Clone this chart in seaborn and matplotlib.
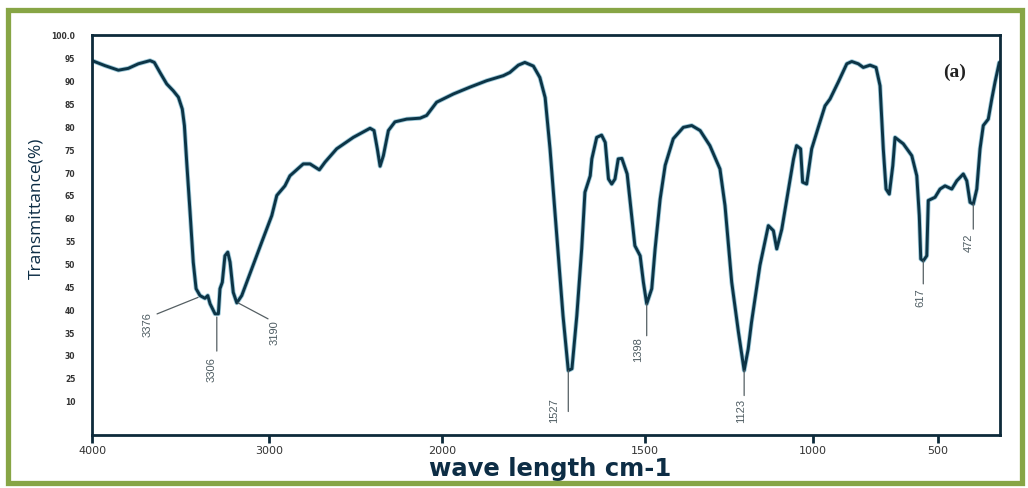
import numpy as np
import matplotlib
matplotlib.use("Agg")
import matplotlib.pyplot as plt
import matplotlib.patheffects as pe
from matplotlib.patches import Rectangle
import pandas as pd
import seaborn as sns

# ---------------- data ----------------
wavenumber = [4000, 3927, 3851, 3795, 3738, 3672, 3648, 3616, 3578, 3541,
              3512, 3490, 3478, 3465, 3446, 3428, 3412, 3390, 3362, 3346,
              3333, 3305, 3286, 3277, 3264, 3249, 3233, 3220, 3202, 3182,
              3154, 3098, 3041, 2984, 2955, 2908, 2879, 2802, 2763, 2709,
              2676, 2609, 2513, 2416, 2393, 2374, 2358, 2339, 2310, 2272,
              2204, 2127, 2089, 2031, 1972, 1931, 1890, 1849, 1833, 1812,
              1796, 1775, 1759, 1746, 1734, 1718, 1702, 1689, 1680, 1668,
              1656, 1648, 1635, 1631, 1619, 1607, 1598, 1590, 1582, 1574,
              1566, 1557, 1544, 1533, 1525, 1512, 1504, 1495, 1480, 1470,
              1455, 1440, 1416, 1386, 1361, 1336, 1307, 1277, 1262, 1242,
              1222, 1205, 1193, 1183, 1158, 1133, 1118, 1108, 1093, 1078,
              1058, 1049, 1037, 1031, 1019, 1004, 979, 952, 932, 899,
              865, 845, 819, 799, 772, 748, 732, 719, 708, 695,
              681, 672, 639, 605, 585, 575, 569, 559, 545, 539,
              512, 492, 472, 445, 425, 399, 385, 372, 359, 345,
              332, 319, 299, 285, 272, 255]

transmittance = [94.4, 93.3, 92.3, 92.7, 93.7, 94.4, 94.0, 91.8, 89.3, 87.8,
                 86.4, 83.8, 80.2, 72.2, 61.2, 50.3, 44.5, 43.0, 42.4, 43.0,
                 41.2, 39.0, 39.0, 44.5, 45.9, 51.7, 52.5, 50.3, 43.7, 41.4,
                 43.0, 48.8, 54.7, 60.5, 64.9, 67.0, 69.2, 71.8, 71.8, 70.5,
                 72.2, 75.1, 77.6, 79.6, 79.1, 75.1, 71.3, 73.6, 79.1, 81.0,
                 81.6, 81.8, 82.4, 85.3, 87.1, 88.6, 90.0, 91.1, 91.8, 93.4,
                 94.0, 93.2, 90.7, 86.3, 75.1, 56.9, 38.6, 26.6, 27.0, 38.6,
                 53.2, 65.6, 69.2, 72.9, 77.6, 78.1, 76.5, 68.5, 67.4, 68.5,
                 72.9, 73.0, 69.6, 60.5, 53.9, 51.7, 45.9, 41.2, 44.5, 53.2,
                 64.1, 71.5, 77.3, 79.8, 80.2, 79.1, 75.8, 70.7, 62.7, 45.9,
                 35.0, 26.6, 31.3, 37.2, 49.6, 58.3, 57.2, 53.2, 57.5, 64.1,
                 72.9, 75.8, 75.1, 67.8, 67.4, 75.1, 79.8, 84.5, 86.0, 89.7,
                 93.7, 94.2, 93.7, 92.9, 93.4, 92.9, 88.9, 75.1, 66.3, 65.2,
                 71.4, 77.6, 76.2, 73.6, 69.2, 60.5, 51.0, 50.6, 51.7, 63.8,
                 64.5, 66.3, 67.0, 66.3, 68.1, 69.6, 68.1, 63.4, 63.0, 66.3,
                 75.1, 80.2, 81.6, 86.0, 89.7, 94.0]

x_tick_values = [4000, 3000, 2000, 1500, 1000, 500]
x_tick_labels = ["4000", "3000", "2000", "1500", "1000", "500"]
y_tick_values = [100, 95, 90, 85, 80, 75, 70, 65, 60, 55, 50, 45, 40, 35, 30, 25, 20]
y_tick_labels = ["100.0", "95", "90", "85", "80", "75", "70", "65", "60",
                 "55", "50", "45", "40", "35", "30", "25", "10"]

peak_labels = ["3376", "3306", "3190", "1527", "1398", "1123", "617", "472"]
peak_wavenumber = [3401, 3295, 3175, 1689, 1495, 1205, 559, 359]
peak_transmittance = [42.6, 38.3, 41.4, 26.6, 41.2, 26.6, 50.6, 63.0]

# uneven wavenumber axis of the reference (wavenumber -> axis units)
axis_knots_w = [252, 500, 1000, 1500, 2000, 3000, 4000]
axis_knots_u = [0, 62, 187, 355, 558, 731, 908]

# ---------------- layout / style ----------------
# offsets (points) of leader-line end and label centre relative to each peak
line_offsets = [(-29.5, -11.9), (0, -24.5), (21.6, -11.5), (0, -29.5),
                (0, -23.0), (0, -18.0), (0, -16.6), (0, -18.0)]
text_offsets = [(-36.4, -19.1), (-4.1, -37.4), (26.6, -20.9), (-10.1, -28.1),
                (-6.5, -32.4), (-2.2, -28.1), (-2.2, -26.0), (-3.6, -27.4)]

KW = np.array(axis_knots_w, float)
KU = np.array(axis_knots_u, float)


def _pw(vals, xs, ys):
    a = np.asarray(vals, float)
    flat = a.ravel()
    out = np.interp(flat, xs, ys)
    s0 = (ys[1] - ys[0]) / (xs[1] - xs[0])
    s1 = (ys[-1] - ys[-2]) / (xs[-1] - xs[-2])
    lo = flat < xs[0]
    hi = flat > xs[-1]
    out[lo] = ys[0] + (flat[lo] - xs[0]) * s0
    out[hi] = ys[-1] + (flat[hi] - xs[-1]) * s1
    return out.reshape(a.shape)


def fwd(w):
    return _pw(w, KW, KU)


def inv(u):
    return _pw(u, KU, KW)


sns.set_style("white")
plt.rcParams["font.family"] = ["DejaVu Sans"]

fig = plt.figure(figsize=(10.28, 4.89), dpi=100)
ax = fig.add_axes([0.0895, 0.1084, 0.8833, 0.818])

df = pd.DataFrame({"wavenumber": wavenumber, "transmittance": transmittance})
sns.lineplot(data=df, x="wavenumber", y="transmittance", sort=False,
             estimator=None, color="#0c3446", lw=2.1, ax=ax)
ax.lines[0].set_path_effects([pe.Stroke(linewidth=3.3, foreground="#3a93b3", alpha=0.5),
                              pe.Normal()])

ax.set_xscale("function", functions=(fwd, inv))
ax.set_xlim(4000, 252)
ax.set_ylim(12.5, 100)

ax.set_xticks(x_tick_values)
ax.set_xticklabels(x_tick_labels)
ax.minorticks_off()
ax.set_yticks(y_tick_values)
ax.set_yticklabels(y_tick_labels)

for s in ax.spines.values():
    s.set_color("#0d2a3a")
    s.set_linewidth(2)

ax.tick_params(axis="x", bottom=True, direction="out", length=6, width=2,
               color="#0d2a3a", labelsize=8, pad=1, labelcolor="#333333")
ax.tick_params(axis="y", left=False, length=0, pad=12, labelsize=5.5,
               labelcolor="#333333")
for t in ax.get_yticklabels():
    t.set_fontweight("bold")

ax.set_xlabel("wave length cm-1", fontsize=17.5, fontweight="bold",
              color="#0d2d45", va="top")
ax.xaxis.set_label_coords(0.504, -0.052)
ax.set_ylabel("Transmittance(%)", fontsize=12.5, color="#0d2d45",
              family="Open Sans")
ax.yaxis.set_label_coords(-0.052, 0.57)

ax.text(0.950, 0.908, "(a)", transform=ax.transAxes, fontsize=14,
        family="Liberation Serif", fontweight="bold", color="#222222",
        ha="center", va="center")

for lab, w, tr, lo, to in zip(peak_labels, peak_wavenumber, peak_transmittance,
                              line_offsets, text_offsets):
    ax.annotate("", xy=(w, tr), xytext=lo, textcoords="offset points",
                arrowprops=dict(arrowstyle="-", color="#555f63", lw=0.9,
                                shrinkA=0, shrinkB=0))
    ax.annotate(lab, xy=(w, tr), xytext=to, textcoords="offset points",
                rotation=90, ha="center", va="center", fontsize=8,
                family="Liberation Sans", color="#4d5b61")

fig.patches.append(Rectangle((0.0073, 0.0102), 0.9869, 0.9663,
                             transform=fig.transFigure, fill=False,
                             ec="#87a545", lw=3.8, zorder=10))

fig.savefig("out.png", dpi=100)
